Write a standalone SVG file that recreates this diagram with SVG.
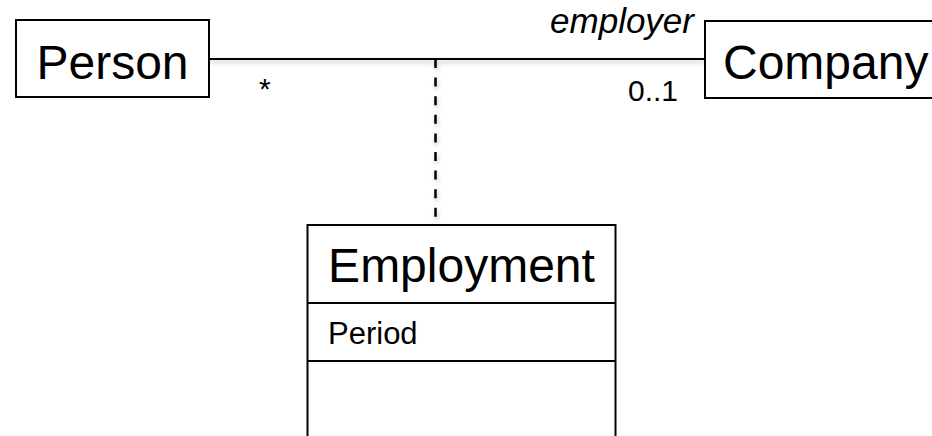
<svg xmlns="http://www.w3.org/2000/svg" width="932" height="436" viewBox="0 0 932 436">
  <defs>
    <filter id="soft" x="-20%" y="-50%" width="140%" height="300%">
      <feDropShadow dx="1" dy="2.5" stdDeviation="2" flood-color="#000" flood-opacity="0.25"/>
    </filter>
    <style>
      .box { fill: #fff; stroke: #000; stroke-width: 2; }
      .sep { stroke: #000; stroke-width: 2; }
      .name { font-family: "Liberation Sans", Arial, sans-serif; font-size: 48px; fill: #000; }
      .attr { font-family: "Liberation Sans", Arial, sans-serif; font-size: 31px; fill: #000; }
      .lbl { font-family: "Liberation Sans", Arial, sans-serif; font-size: 30px; fill: #000; }
      .role { font-family: "Liberation Sans", Arial, sans-serif; font-size: 35px; font-style: italic; fill: #000; }
      .assoc { stroke: #000; stroke-width: 2; fill: none; }
      .dash { stroke: #000; stroke-width: 2.5; fill: none; stroke-dasharray: 9 9.6; }
    </style>
  </defs>

  <!-- association and association-class link -->
  <g id="connectors" filter="url(#soft)">
    <line class="assoc" x1="209" y1="59" x2="705" y2="59"/>
    <line class="dash" x1="435.5" y1="59" x2="435.5" y2="218"/>
  </g>

  <g id="labels">
    <text class="lbl" x="259" y="99">*</text>
    <text class="lbl" x="628" y="101">0..1</text>
    <text class="role" x="694" y="33" text-anchor="end">employer</text>
  </g>

  <g id="person">
    <rect class="box" x="16" y="20" width="193" height="77"/>
    <text class="name" x="112.5" y="79" text-anchor="middle">Person</text>
  </g>

  <g id="company">
    <rect class="box" x="705" y="21" width="260" height="77"/>
    <text class="name" x="723" y="79" font-size="45">Company</text>
  </g>

  <g id="employment">
    <rect class="box" x="307.5" y="225" width="308" height="230"/>
    <line class="sep" x1="307.5" y1="303" x2="615.5" y2="303"/>
    <line class="sep" x1="307.5" y1="361" x2="615.5" y2="361"/>
    <text class="name" x="461.5" y="282" text-anchor="middle">Employment</text>
    <text class="attr" x="328" y="344">Period</text>
  </g>
</svg>
